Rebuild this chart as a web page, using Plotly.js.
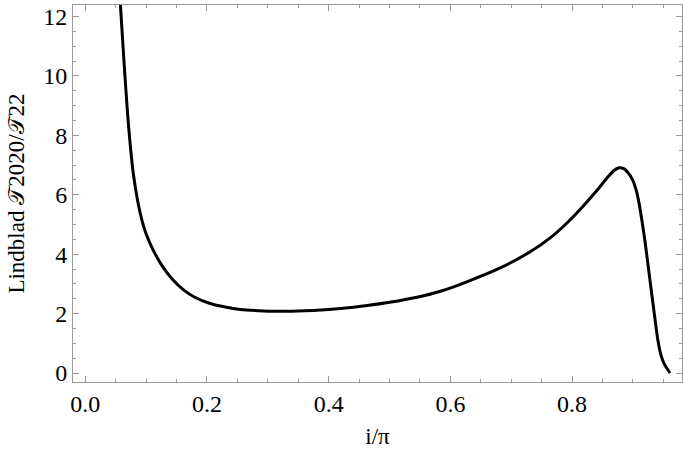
<!DOCTYPE html>
<html>
<head>
<meta charset="utf-8">
<script src="https://cdn.plot.ly/plotly-3.0.1.min.js"></script>
<style>
html,body{margin:0;padding:0;background:#fff;}
#chart{width:683px;height:455px;}
</style>
</head>
<body>
<div id="chart"></div>
<script>
// inclination i/pi
const inclination = [0.055, 0.058, 0.062, 0.066, 0.070, 0.074, 0.079, 0.086, 0.093, 0.100, 0.112, 0.125, 0.142, 0.162, 0.180, 0.205, 0.230, 0.255, 0.285, 0.315, 0.350, 0.381, 0.420, 0.463, 0.500, 0.545, 0.585, 0.627, 0.680, 0.731, 0.764, 0.792, 0.815, 0.840, 0.858, 0.868, 0.877, 0.885, 0.892, 0.899, 0.905, 0.910, 0.915, 0.920, 0.928, 0.936, 0.941, 0.946, 0.952, 0.961];
// Lindblad torque ratio T2020/T22
const torqueRatio = [13.3, 12.3, 11.0, 9.75, 8.6, 7.65, 6.7, 5.8, 5.15, 4.68, 4.12, 3.65, 3.18, 2.79, 2.55, 2.34, 2.22, 2.14, 2.10, 2.08, 2.09, 2.11, 2.17, 2.27, 2.38, 2.55, 2.76, 3.07, 3.52, 4.08, 4.55, 5.06, 5.55, 6.13, 6.58, 6.80, 6.91, 6.88, 6.74, 6.52, 6.18, 5.72, 5.10, 4.40, 3.12, 1.85, 1.10, 0.60, 0.28, 0.0];

const xTickVals = [0.0, 0.2, 0.4, 0.6, 0.8];
const xTickText = ["0.0", "0.2", "0.4", "0.6", "0.8"];
const yTickVals = [0, 2, 4, 6, 8, 10, 12];
const yTickText = ["0", "2", "4", "6", "8", "10", "12"];

const serif = "'Liberation Serif', 'DejaVu Serif', serif";
const frameColor = "#9a9a9a";

const trace = {
  x: inclination,
  y: torqueRatio,
  type: "scatter",
  mode: "lines",
  line: {color: "#000", width: 3, shape: "spline", smoothing: 0.8},
  hoverinfo: "skip"
};

const axisCommon = {
  showgrid: false,
  zeroline: false,
  showline: true,
  linecolor: frameColor,
  linewidth: 1,
  mirror: "allticks",
  ticks: "inside",
  ticklen: 6,
  tickwidth: 1,
  tickcolor: frameColor,
  tickfont: {family: serif, size: 24, color: "#000"},
  automargin: false
};

const layout = {
  width: 683,
  height: 455,
  margin: {l: 73, r: 1, t: 5, b: 73},
  paper_bgcolor: "#fff",
  plot_bgcolor: "#fff",
  showlegend: false,
  font: {family: serif},
  xaxis: Object.assign({}, axisCommon, {
    range: [-0.0202, 0.9806],
    tickmode: "array",
    tickvals: xTickVals,
    ticktext: xTickText,
    minor: {ticks: "inside", dtick: 0.05, tick0: 0, ticklen: 3, tickcolor: frameColor, showgrid: false},
    title: {text: "i/π", font: {family: serif, size: 23, color: "#000"}, standoff: 12}
  }),
  yaxis: Object.assign({}, axisCommon, {
    range: [-0.303, 12.39],
    tickmode: "array",
    tickvals: yTickVals,
    ticktext: yTickText,
    minor: {ticks: "inside", dtick: 0.5, tick0: 0, ticklen: 3, tickcolor: frameColor, showgrid: false},
    title: {text: "Lindblad 𝒯2020/𝒯22", font: {family: serif, size: 23, color: "#000"}, standoff: 12}
  })
};

Plotly.newPlot("chart", [trace], layout, {displayModeBar: false, staticPlot: true});
</script>
</body>
</html>
